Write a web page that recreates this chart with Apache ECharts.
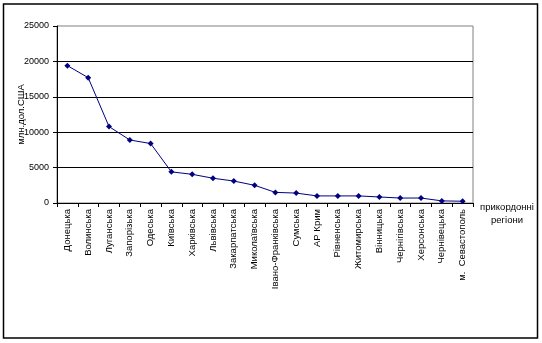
<!DOCTYPE html>
<html><head><meta charset="utf-8">
<script src="https://cdn.jsdelivr.net/npm/echarts@6/dist/echarts.min.js"></script>
<style>html,body{margin:0;padding:0;background:#fff}#c{width:542px;height:343px}</style>
</head><body><div id="c"></div>
<script>
const categories = ['Донецька','Волинська','Луганська','Запорізька','Одеська','Київська','Харківська','Львівська','Закарпатська','Миколаївська','Івано-Франківська','Сумська','АР Крим','Рівненська','Житомирська','Вінницька','Чернігівська','Херсонська','Чернівецька','м.  Севастополь'];
const values = [19400,17700,10800,8900,8400,4400,4050,3500,3100,2500,1500,1400,1000,1000,1000,850,700,700,300,250];
const yTicks = [0,5000,10000,15000,20000,25000];
const yName = 'млн.дол.США';
const xName = 'прикордонні\nрегіони';
const font = 'Arial, "Liberation Sans", sans-serif';
const chart = echarts.init(document.getElementById('c'));
chart.setOption({
  animation:false,
  grid:{left:57,top:26,width:416,height:177,show:true,borderColor:'#808080',borderWidth:1,backgroundColor:'transparent'},
  graphic:[{type:'rect',shape:{x:3.5,y:4,width:534,height:334},style:{fill:'none',stroke:'#000',lineWidth:1.5},silent:true}],
  xAxis:{type:'category',data:categories,boundaryGap:true,
    name:xName,nameLocation:'end',nameGap:34,
    nameTextStyle:{fontFamily:font,fontSize:9.5,color:'#000',align:'center',verticalAlign:'top',lineHeight:13,padding:[-2,0,0,0]},
    axisLine:{lineStyle:{color:'#000',width:1}},
    axisTick:{show:true,alignWithLabel:false,length:4,lineStyle:{color:'#000'}},
    axisLabel:{rotate:90,interval:0,fontFamily:font,fontSize:9.5,color:'#000',margin:6},
    splitLine:{show:false}},
  yAxis:{type:'value',min:yTicks[0],max:yTicks[yTicks.length-1],interval:5000,
    name:yName,nameLocation:'middle',nameGap:31,nameRotate:90,nameMoveOverlap:false,
    nameTextStyle:{fontFamily:font,fontSize:9.5,color:'#000'},
    axisLine:{show:true,lineStyle:{color:'#000',width:1}},
    axisTick:{show:true,length:4,lineStyle:{color:'#000'}},
    axisLabel:{fontFamily:font,fontSize:9,color:'#000',margin:8,formatter:v=>String(v)},
    splitLine:{show:true,showMaxLine:false,lineStyle:{color:'#000',width:1}}},
  series:[{type:'line',data:values,symbol:'diamond',symbolSize:6,
    lineStyle:{color:'#000080',width:1},itemStyle:{color:'#000080'}}]
});
</script></body></html>
